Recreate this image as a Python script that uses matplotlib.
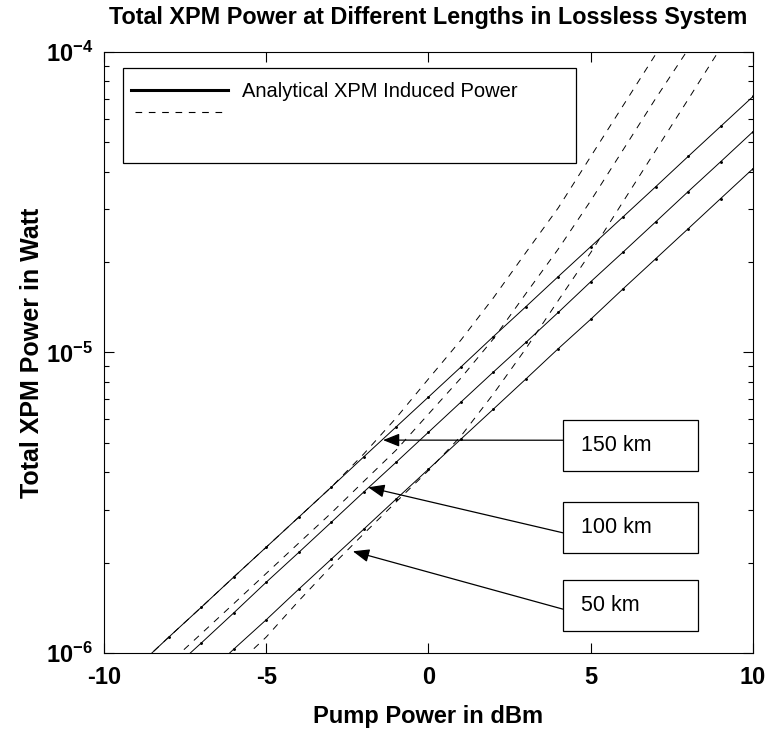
import numpy as np
import matplotlib.pyplot as plt
from matplotlib.patches import Rectangle
from matplotlib.lines import Line2D
from matplotlib.ticker import LogLocator, FixedLocator, FuncFormatter

plt.rcParams['font.family'] = ['Liberation Sans', 'DejaVu Sans']
plt.rcParams['mathtext.fontset'] = 'custom'
plt.rcParams['mathtext.rm'] = 'Liberation Sans:bold'
plt.rcParams['mathtext.bf'] = 'Liberation Sans:bold'
plt.rcParams['axes.unicode_minus'] = False

# pump power grid (dBm)
pump_dbm = [-10, -9, -8, -7, -6, -5, -4, -3, -2, -1, 0,
            1, 2, 3, 4, 5, 6, 7, 8, 9, 10]

# analytical XPM induced power (W), solid lines
analytic_150 = [7.11e-7, 8.95e-7, 1.13e-6, 1.42e-6, 1.79e-6, 2.25e-6, 2.83e-6,
                3.56e-6, 4.49e-6, 5.65e-6, 7.11e-6, 8.95e-6, 1.13e-5, 1.42e-5,
                1.79e-5, 2.25e-5, 2.83e-5, 3.56e-5, 4.49e-5, 5.65e-5, 7.11e-5]
analytic_100 = [5.43e-7, 6.84e-7, 8.61e-7, 1.08e-6, 1.36e-6, 1.72e-6, 2.16e-6,
                2.72e-6, 3.43e-6, 4.31e-6, 5.43e-6, 6.84e-6, 8.61e-6, 1.08e-5,
                1.36e-5, 1.72e-5, 2.16e-5, 2.72e-5, 3.43e-5, 4.31e-5, 5.43e-5]
analytic_50 = [4.09e-7, 5.15e-7, 6.48e-7, 8.16e-7, 1.03e-6, 1.29e-6, 1.63e-6,
               2.05e-6, 2.58e-6, 3.25e-6, 4.09e-6, 5.15e-6, 6.48e-6, 8.16e-6,
               1.03e-5, 1.29e-5, 1.63e-5, 2.05e-5, 2.58e-5, 3.25e-5, 4.09e-5]

# second (dashed) set of curves (W)
dashed_150 = [7.11e-7, 8.95e-7, 1.13e-6, 1.42e-6, 1.79e-6, 2.25e-6, 2.83e-6,
              3.56e-6, 4.59e-6, 6.05e-6, 8.17e-6, 1.10e-5, 1.52e-5, 2.15e-5,
              3.03e-5, 4.49e-5, 6.64e-5, 9.82e-5, 1.45e-4, 2.15e-4, 3.18e-4]
dashed_100 = [5.82e-7, 7.33e-7, 9.23e-7, 1.16e-6, 1.46e-6, 1.84e-6, 2.32e-6,
              2.92e-6, 3.72e-6, 4.73e-6, 6.24e-6, 8.22e-6, 1.11e-5, 1.57e-5,
              2.21e-5, 3.20e-5, 4.73e-5, 7.00e-5, 1.02e-4, 1.50e-4, 2.21e-4]
dashed_50 = [3.56e-7, 4.49e-7, 5.65e-7, 7.11e-7, 8.95e-7, 1.13e-6, 1.49e-6,
             1.94e-6, 2.49e-6, 3.18e-6, 4.05e-6, 5.27e-6, 7.28e-6, 1.03e-5,
             1.49e-5, 2.15e-5, 3.18e-5, 4.70e-5, 6.95e-5, 1.03e-4, 1.52e-4]

# length labels and where their arrows point
length_labels = ["150 km", "100 km", "50 km"]
arrow_x = [-1.40, -1.86, -2.33]
arrow_y = [5.11e-6, 3.56e-6, 2.18e-6]

fig = plt.figure(figsize=(7.69, 7.31), dpi=100)
ax = fig.add_axes([0.1352, 0.1067, 0.8440, 0.8222])

for s in [analytic_150, analytic_100, analytic_50]:
    ax.plot(pump_dbm, s, color='black', lw=0.7, marker='.', ms=2.2)
for s in [dashed_150, dashed_100, dashed_50]:
    ax.plot(pump_dbm, s, color='black', lw=0.7, dashes=(7, 7))

ax.set_yscale('log')
ax.set_xlim(-10, 10)
ax.set_ylim(1e-6, 1e-4)
ax.xaxis.set_major_locator(FixedLocator([-10, -5, 0, 5, 10]))
ax.yaxis.set_major_locator(LogLocator(base=10))
ax.yaxis.set_major_formatter(FuncFormatter(
    lambda v, pos: r'$\mathbf{10^{%d}}$' % round(np.log10(v))))
ax.yaxis.set_minor_locator(LogLocator(base=10, subs=np.arange(2, 10)))
ax.yaxis.set_minor_formatter(plt.NullFormatter())
ax.tick_params(which='both', direction='in', top=True, right=True, width=0.8)
ax.tick_params(which='major', length=7)
ax.tick_params(which='minor', length=3.5)
ax.tick_params(axis='x', labelsize=17, pad=9)
ax.tick_params(axis='y', labelsize=17, pad=8)
for lab in ax.get_xticklabels():
    lab.set_fontweight('bold')
for sp in ax.spines.values():
    sp.set_linewidth(0.8)

ax.set_title("Total XPM Power at Different Lengths in Lossless System",
             fontsize=16.8, fontweight='bold', pad=20)
ax.set_xlabel("Pump Power in dBm", fontsize=17, fontweight='bold', labelpad=12)
ax.set_ylabel("Total XPM Power in Watt", fontsize=18, fontweight='bold', labelpad=1)

# legend box drawn like the original (oversized frame)
ax.add_patch(Rectangle((0.0293, 0.815), 0.698, 0.158, transform=ax.transAxes,
                       fill=True, facecolor='white', edgecolor='black', lw=0.9, zorder=5))
ax.add_line(Line2D([0.042, 0.191], [0.937, 0.937], transform=ax.transAxes,
                   color='black', lw=2.2, zorder=6))
ax.add_line(Line2D([0.048, 0.191], [0.900, 0.900], transform=ax.transAxes,
                   color='black', lw=0.8, dashes=(6, 6), zorder=6))
ax.text(0.213, 0.934, "Analytical XPM Induced Power", transform=ax.transAxes,
        fontsize=14.5, va='center', ha='left', zorder=6)

# length boxes with arrows
box_bottom = [0.303, 0.166, 0.0366]
tail_y = [0.354, 0.200, 0.073]
for lab, bx, ty, xa, ya in zip(length_labels, box_bottom, tail_y, arrow_x, arrow_y):
    ax.add_patch(Rectangle((0.707, bx), 0.208, 0.085, transform=ax.transAxes,
                           facecolor='white', edgecolor='black', lw=0.9, zorder=5))
    ax.text(0.735, bx + 0.0425, lab, transform=ax.transAxes, fontsize=15.5,
            va='center', ha='left', zorder=6)
    ax.annotate("", xy=(xa, ya), xycoords='data',
                xytext=(0.707, ty), textcoords='axes fraction',
                arrowprops=dict(arrowstyle='-|>,head_length=1.0,head_width=0.4',
                                color='black', lw=0.9, shrinkA=0, shrinkB=0),
                zorder=6)

fig.savefig("out.png", dpi=100)
